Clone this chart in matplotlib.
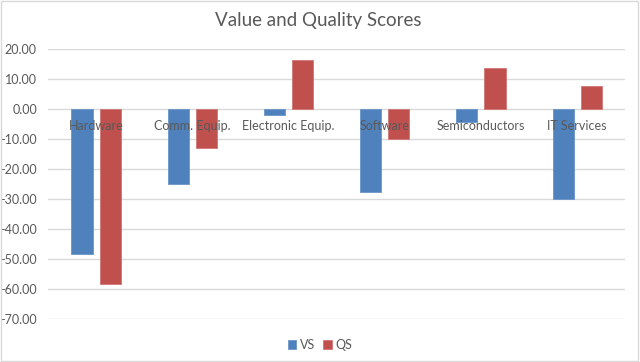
import numpy as np
import matplotlib.pyplot as plt
from matplotlib.patches import Rectangle

plt.rcParams['font.family'] = ['Lato', 'DejaVu Sans']

categories = ['Hardware', 'Comm. Equip.', 'Electronic Equip.', 'Software', 'Semiconductors', 'IT Services']
vs = [-48.5, -25.0, -2.0, -27.6, -4.3, -30.0]
qs = [-58.3, -13.1, 16.2, -10.0, 13.6, 7.6]
yticks = np.arange(-70, 21, 10)

fig = plt.figure(figsize=(6.4, 3.62), dpi=100)
ax = fig.add_axes([0.075, 0.1188, 0.902, 0.7458])

x = np.arange(len(categories))
w = 0.22
off = 0.146
ax.bar(x - off, vs, w, color='#4F81BD', edgecolor='#6A95C8', linewidth=0.6, label='VS', zorder=3)
ax.bar(x + off, qs, w, color='#C0504D', edgecolor='#CF7775', linewidth=0.6, label='QS', zorder=3)

ax.set_xlim(-0.5, len(categories) - 0.5)
ax.set_ylim(-70, 20)
ax.set_yticks(yticks)
ax.set_yticklabels(['%.2f' % v for v in yticks], color='#595959', fontsize=9)
ax.set_xticks([])
ax.tick_params(axis='y', length=0, pad=8)
ax.grid(axis='y', color='#D9D9D9', linewidth=1, zorder=0)
for s in ax.spines.values():
    s.set_visible(False)

for i, c in enumerate(categories):
    ax.text(i, -5.7, c, ha='center', va='center', color='#595959', fontsize=9, zorder=4)

fig.text(0.498, 0.942, 'Value and Quality Scores', ha='center', va='center', color='#595959', fontsize=13.5)

fig.legend(loc='lower center', bbox_to_anchor=(0.5, 0.0), ncol=2, frameon=False,
           handlelength=0.7, handleheight=0.7, handletextpad=0.3, columnspacing=0.6,
           fontsize=9, labelcolor='#595959')

fig.patches.append(Rectangle((0.002, 0.003), 0.995, 0.994, transform=fig.transFigure,
                             fill=False, edgecolor='#D9D9D9', linewidth=1))

fig.savefig('out.png', dpi=100)
